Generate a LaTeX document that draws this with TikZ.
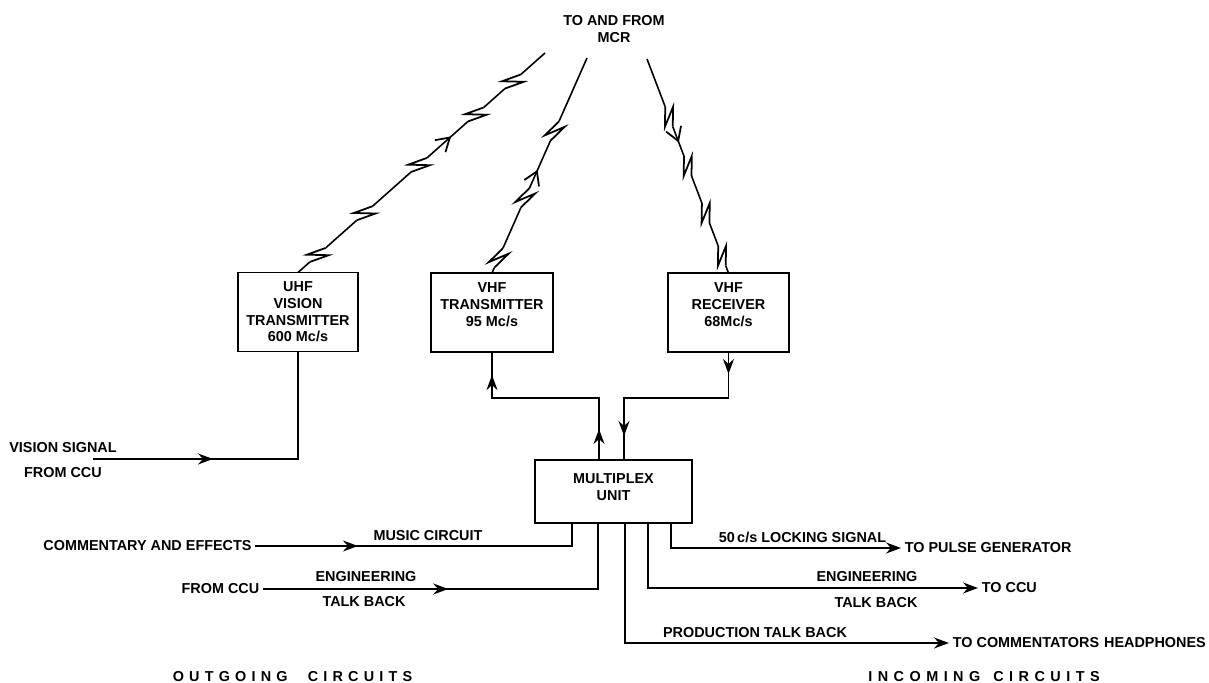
\documentclass[tikz,border=0pt]{standalone}
\usepackage{fontspec}
\setmainfont{Liberation Sans}
\usetikzlibrary{arrows.meta, decorations.markings, calc}

% one lightning kink on a radio link, drawn in the marking's own frame
\newcommand{\boltkink}{%
  \fill[white] (-6pt,-1.4pt) rectangle (6pt,1.4pt);
  \draw[line width=1pt, line join=miter] (-6pt,0pt) -- (4.5pt,-4.2pt) -- (-4.5pt,4.2pt) -- (6pt,0pt);}

\begin{document}
\begin{tikzpicture}[
  every node/.style={font=\bfseries\fontsize{8.2}{9.5}\selectfont, inner sep=2pt},
  box/.style={draw, line width=1.1pt, align=center},
  lbl/.style={align=center},
  wire/.style={line width=1.1pt},
  tip/.style={-{Stealth[length=3mm, width=2.2mm, inset=1mm]}},
  bolt/.style={line width=0.9pt},
  kink at/.style={postaction={decorate, decoration={markings,
      mark=at position #1 with {\boltkink}}}},
  mid tip/.style={postaction={decorate, decoration={markings,
      mark=at position #1 with {\arrow{Stealth[length=3mm, width=2.2mm, inset=1mm]}}}}},
  barb at/.style={postaction={decorate, decoration={markings,
      mark=at position #1 with {\arrow[line width=1pt]{Straight Barb[length=2.6mm, width=3.2mm]}}}}}
]
\useasboundingbox (0,0) rectangle (24.18,-13.66);

% radio links to MCR (drawn first so the sets sit on top)
\coordinate (bl) at (10.9,-1.06);
\coordinate (bm) at (11.74,-1.16);
\coordinate (br) at (12.94,-1.18);
\coordinate (ul) at (5.96,-5.45);
\coordinate (vl) at (9.84,-5.46);
\coordinate (rl) at (14.57,-5.46);

% sets
\node[lbl] (mcr) at (12.28,-0.58) {TO AND FROM\\MCR};
\draw[bolt, kink at/.list={0.08,0.27,0.49,0.72,0.87}, barb at=0.62] (ul) -- (bl);
\draw[bolt, kink at/.list={0.07,0.35,0.66}, barb at=0.48] (vl) -- (bm);
\draw[bolt, kink at/.list={0.27,0.5,0.72,0.92}, barb at=0.39] (br) -- (rl);
\node[box, fill=white, minimum width=2.4cm, minimum height=1.58cm] (uhf) at (5.96,-6.24)
  {UHF\\VISION\\TRANSMITTER\\600 Mc/s};
\node[box, fill=white, minimum width=2.44cm, minimum height=1.58cm, text depth=9pt] (vtx) at (9.84,-6.25)
  {VHF\\TRANSMITTER\\95 Mc/s};
\node[box, fill=white, minimum width=2.42cm, minimum height=1.58cm, text depth=9pt] (vrx) at (14.57,-6.25)
  {VHF\\RECEIVER\\68Mc/s};
\node[box, minimum width=3.14cm, minimum height=1.26cm, text depth=5pt] (mux) at (12.27,-9.83)
  {MULTIPLEX\\UNIT};

% outgoing side
\node[lbl] (vis) at (1.26,-9.2) {VISION SIGNAL\\[5pt]FROM CCU};
\node (comm) at (2.95,-10.92) {COMMENTARY AND EFFECTS};
\node (music) at (8.56,-10.72) {MUSIC CIRCUIT};
\node (ccu) at (4.41,-11.78) {FROM CCU};
\node (engin) at (7.32,-11.54) {ENGINEERING};
\node (tbin) at (7.28,-12.04) {TALK BACK};
\node (outg) at (5.85,-13.54) {\addfontfeature{LetterSpace=36}OUTGOING\hspace{1.4em}CIRCUITS};

% incoming side
\node (lock) at (16.05,-10.74) {50\,c/s LOCKING SIGNAL};
\node[anchor=west] (pulse) at (18.02,-10.96) {TO PULSE GENERATOR};
\node (engout) at (17.34,-11.54) {ENGINEERING};
\node (tbout) at (17.52,-12.06) {TALK BACK};
\node[anchor=west] (toccu) at (19.56,-11.76) {TO CCU};
\node (prod) at (15.1,-12.66) {PRODUCTION TALK BACK};
\node[anchor=west] (heads) at (18.98,-12.86) {TO COMMENTATORS\hspace{0.35em}HEADPHONES};
\node (incg) at (19.68,-13.54) {\addfontfeature{LetterSpace=38}INCOMING\hspace{0.9em}CIRCUITS};

% multiplex to and from the VHF sets
\coordinate (j1) at (0,-7.96);
\coordinate (t1) at ($(mux.north west)+(1.3,0)$);
\coordinate (t2) at ($(mux.north west)+(1.8,0)$);
\draw[wire, mid tip/.list={0.6cm,3.82cm}] (t1) -- (t1 |- j1) -| (vtx.south);
\draw[wire, mid tip/.list={0.42cm,3.75cm}] (vrx.south) -- (vrx.south |- j1) -| (t2);

% vision feed
\coordinate (visin) at (1.86,-9.18);
\draw[wire, mid tip=2.4cm] (visin) -| (uhf.south);

% circuits under the multiplex
\foreach \n/\dx in {1/0.76, 2/1.28, 3/1.82, 4/2.28, 5/2.74}
  \coordinate (m\n) at ($(mux.south west)+(\dx,0)$);
\draw[wire, mid tip=2.05cm] (comm.east) -| (m1);
\draw[wire, mid tip=3.7cm] (ccu.east) -| (m2);
\draw[wire, tip] (m3) |- (heads.west);
\draw[wire, tip] (m4) |- (toccu.west);
\draw[wire, tip] (m5) |- (pulse.west);
\end{tikzpicture}
\end{document}
